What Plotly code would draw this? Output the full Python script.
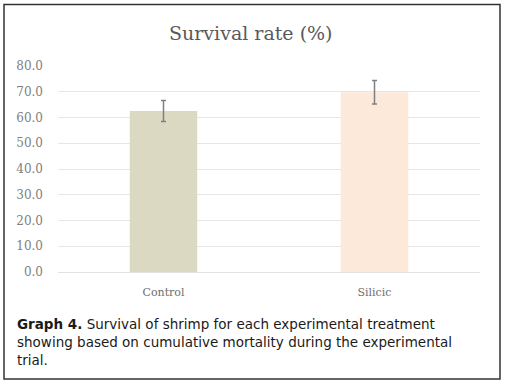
import plotly.graph_objects as go

categories = ["Control", "Silicic"]
survival = [62.5, 69.8]
errors = [4.1, 4.6]
bar_colors = ["#DCD9C2", "#FCE9DA"]
y_ticks = [0, 10, 20, 30, 40, 50, 60, 70, 80]
caption_lines = [
    "<b>Graph 4.</b> Survival of shrimp for each experimental treatment",
    "showing based on cumulative mortality during the experimental",
    "trial.",
]

W, H = 506, 384
L, R, T, B = 58, 26, 66, 112
pw, ph = W - L - R, H - T - B

def px(x):
    return (x - L) / pw

def py(y):
    return (H - B - y) / ph

fig = go.Figure()
fig.add_trace(go.Bar(
    x=categories, y=survival,
    marker=dict(color=bar_colors, line=dict(width=0)),
    width=0.32,
    error_y=dict(type="data", array=errors, visible=True,
                 color="#7f7f7f", thickness=1.5, width=2.5),
))

fig.update_layout(
    width=W, height=H,
    margin=dict(l=L, r=R, t=T, b=B, pad=0),
    paper_bgcolor="white", plot_bgcolor="white",
    showlegend=False,
    xaxis=dict(showgrid=False, showline=False, ticks="",
               tickfont=dict(family="DejaVu Serif", size=11, color="#6e6e6e"),
               ticklabelstandoff=12),
    yaxis=dict(range=[0, 80], tickvals=y_ticks,
               ticktext=[f"{v:.1f}" for v in y_ticks],
               showgrid=True, gridcolor="#e6e6e6", gridwidth=1.2,
               zeroline=True, zerolinecolor="#e2e2e2", zerolinewidth=1.2,
               showline=False, ticks="",
               tickfont=dict(family="DejaVu Serif", size=12, color="#808080"),
               ticklabelstandoff=14, automargin=False),
)

# outer border
fig.add_shape(type="rect", xref="paper", yref="paper",
              x0=px(4), x1=px(500), y0=py(379), y1=py(4.5),
              line=dict(color="#333333", width=1.5), fillcolor="rgba(0,0,0,0)",
              layer="below")

# title
fig.add_annotation(xref="paper", yref="paper", x=px(251), y=py(33),
                   text="Survival rate (%)", showarrow=False,
                   xanchor="center", yanchor="middle",
                   font=dict(family="DejaVu Serif", size=19, color="#595959"))

# caption
for i, line in enumerate(caption_lines):
    fig.add_annotation(xref="paper", yref="paper", x=px(15), y=py(324 + 18 * i),
                       text=line, showarrow=False, align="left",
                       xanchor="left", yanchor="middle",
                       font=dict(family="DejaVu Sans", size=13.5, color="#1a1a1a"))

fig.write_html("out.html", config={"displayModeBar": False},
               post_script="document.body.style.margin='0';document.body.style.padding='0';")
